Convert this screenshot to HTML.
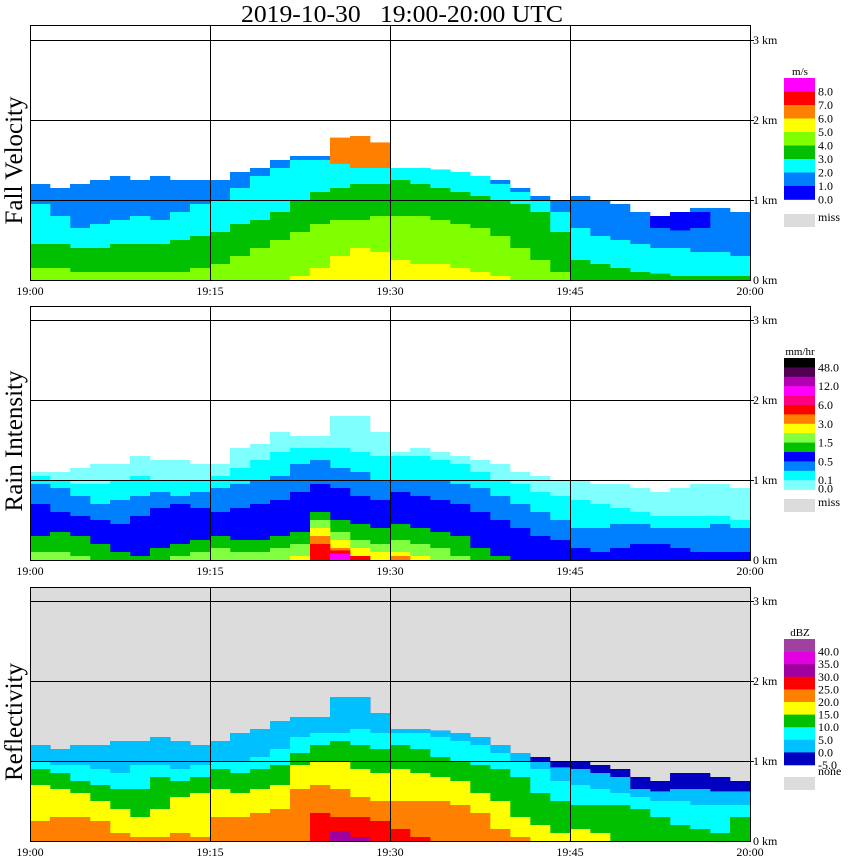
<!DOCTYPE html>
<html><head><meta charset="utf-8">
<style>
html,body{margin:0;padding:0;background:#fff;}
svg{display:block;font-family:"Liberation Serif",serif;}
</style></head>
<body>
<svg id="chart" width="850" height="868" viewBox="0 0 850 868" xmlns="http://www.w3.org/2000/svg">
<text x="402" y="22" font-size="24" text-anchor="middle" style="white-space:pre" xml:space="preserve" textLength="322" lengthAdjust="spacingAndGlyphs">2019-10-30   19:00-20:00 UTC</text>
<g id="layers"></g>
<g id="frames"></g>
<g id="legends"></g>
</svg>
<script>
// ---- time / height data (36 columns of 100 s, heights in km) ----
var timeLabels = ["19:00","19:15","19:30","19:45","20:00"];
var kmLabels = ["0 km","1 km","2 km","3 km"];
var panelTitles = ["Fall Velocity","Rain Intensity","Reflectivity"];

// Fall velocity band tops
var fvTop    = [1.2,1.15,1.2,1.25,1.3,1.25,1.3,1.25,1.25, 1.25,1.35,1.4,1.5,1.55,1.55,1.55,1.55,1.5, 1.4,1.4,1.38,1.35,1.3,1.25,1.15,1.05,1.0, 1.05,1.0,0.95,0.85,0.8,0.85,0.9,0.9,0.85];
var fvCyan   = [0.95,0.8,0.65,0.7,0.75,0.8,0.75,0.85,0.95, 1.0,1.15,1.3,1.4,1.5,1.5,1.5,1.5,1.45, 1.4,1.4,1.38,1.35,1.3,1.2,1.1,1.0,0.85, 0.65,0.55,0.5,0.45,0.4,0.4,0.35,0.35,0.3];
var fvGreen  = [0.45,0.45,0.4,0.4,0.45,0.45,0.45,0.5,0.55, 0.6,0.7,0.75,0.85,1.0,1.1,1.15,1.2,1.2, 1.25,1.2,1.15,1.1,1.05,1.0,0.95,0.85,0.6, 0.25,0.2,0.15,0.1,0.08,0.05,0.05,0.05,0.05];
var fvLime   = [0.15,0.15,0.1,0.1,0.1,0.1,0.1,0.1,0.15, 0.2,0.3,0.4,0.5,0.6,0.7,0.75,0.75,0.8, 0.8,0.8,0.75,0.7,0.65,0.55,0.4,0.25,0.1, 0,0,0,0,0,0,0,0,0];
var fvYellow = [0,0,0,0,0,0,0,0,0, 0,0,0,0,0.05,0.15,0.3,0.4,0.35, 0.25,0.2,0.2,0.15,0.1,0.05,0,0,0, 0,0,0,0,0,0,0,0,0];
var fvBlueLo = [0,0,0,0,0,0,0,0,0, 0,0,0,0,0,0,0,0,0, 0,0,0,0,0,0,0,0,0, 0,0,0,0,0.65,0.62,0.65,0,0];
var fvBlueHi = [0,0,0,0,0,0,0,0,0, 0,0,0,0,0,0,0,0,0, 0,0,0,0,0,0,0,0,0, 0,0,0,0,0.8,0.85,0.85,0,0];
var fvFastLo = [0,0,0,0,0,0,0,0,0, 0,0,0,0,0,0,1.45,1.4,1.4, 0,0,0,0,0,0,0,0,0, 0,0,0,0,0,0,0,0,0];
var fvFastHi = [0,0,0,0,0,0,0,0,0, 0,0,0,0,0,0,1.78,1.8,1.72, 0,0,0,0,0,0,0,0,0, 0,0,0,0,0,0,0,0,0];

// Rain intensity band tops
var riPale   = [1.1,1.1,1.15,1.2,1.2,1.3,1.25,1.25,1.2, 1.2,1.4,1.45,1.6,1.55,1.55,1.8,1.8,1.6, 1.35,1.4,1.35,1.3,1.25,1.2,1.1,1.05,1.0, 1.0,0.95,0.95,0.9,0.85,0.9,0.95,0.95,0.9];
var riCyan   = [1.05,1.0,0.95,0.95,1.0,1.05,1.0,1.0,1.0, 1.05,1.15,1.25,1.35,1.4,1.4,1.4,1.35,1.3, 1.3,1.3,1.25,1.2,1.1,1.0,0.95,0.85,0.8, 0.75,0.7,0.65,0.6,0.55,0.55,0.55,0.55,0.5];
var riDodger = [0.95,0.9,0.8,0.7,0.75,0.8,0.85,0.8,0.85, 0.9,0.95,1.0,1.05,1.2,1.25,1.15,1.1,1.0, 1.0,1.0,1.0,0.95,0.9,0.8,0.7,0.6,0.5, 0.4,0.4,0.45,0.45,0.4,0.4,0.4,0.45,0.4];
var riBlue   = [0.7,0.6,0.55,0.5,0.45,0.55,0.65,0.7,0.65, 0.6,0.65,0.7,0.75,0.85,0.95,0.9,0.8,0.75, 0.85,0.8,0.75,0.7,0.6,0.5,0.4,0.3,0.25, 0.15,0.1,0.15,0.2,0.2,0.15,0.1,0.1,0.1];
var riGreen  = [0.3,0.35,0.3,0.2,0.1,0.05,0.15,0.2,0.25, 0.3,0.25,0.25,0.3,0.35,0.6,0.5,0.45,0.4, 0.45,0.4,0.35,0.3,0.15,0.05,0,0,0, 0,0,0,0,0,0,0,0,0];
var riLime   = [0.1,0.1,0.05,0,0,0,0,0.05,0.1, 0.15,0.1,0.1,0.15,0.2,0.5,0.35,0.25,0.2, 0.25,0.2,0.15,0.05,0,0,0,0,0, 0,0,0,0,0,0,0,0,0];
var riYellow = [0,0,0,0,0,0,0,0,0, 0,0,0,0,0.05,0.4,0.25,0.15,0.1, 0.1,0.05,0,0,0,0,0,0,0, 0,0,0,0,0,0,0,0,0];
var riOrange = [0,0,0,0,0,0,0,0,0, 0,0,0,0,0,0.3,0.15,0.05,0, 0.05,0,0,0,0,0,0,0,0, 0,0,0,0,0,0,0,0,0];
var riRed    = [0,0,0,0,0,0,0,0,0, 0,0,0,0,0,0.2,0.12,0.05,0, 0,0,0,0,0,0,0,0,0, 0,0,0,0,0,0,0,0,0];
var riMag    = [0,0,0,0,0,0,0,0,0, 0,0,0,0,0,0,0.08,0,0, 0,0,0,0,0,0,0,0,0, 0,0,0,0,0,0,0,0,0];

// Reflectivity band tops
var rfDark   = [1.2,1.15,1.2,1.2,1.25,1.25,1.3,1.25,1.2, 1.25,1.35,1.4,1.5,1.55,1.55,1.8,1.8,1.6, 1.4,1.4,1.38,1.35,1.3,1.2,1.1,1.05,1.0, 1.0,0.95,0.9,0.8,0.75,0.85,0.85,0.8,0.75];
var rfSky    = [1.2,1.15,1.2,1.2,1.25,1.25,1.3,1.25,1.2, 1.25,1.35,1.4,1.5,1.55,1.55,1.8,1.8,1.6, 1.4,1.4,1.38,1.35,1.3,1.2,1.1,1.0,0.92, 0.9,0.85,0.8,0.65,0.62,0.65,0.65,0.62,0.62];
var rfCyan   = [1.0,0.95,0.95,0.9,0.85,0.95,0.95,0.9,0.95, 1.0,1.0,1.05,1.15,1.3,1.35,1.35,1.4,1.35, 1.35,1.35,1.3,1.25,1.2,1.1,1.0,0.9,0.75, 0.7,0.65,0.6,0.55,0.5,0.5,0.45,0.45,0.45];
var rfGreen  = [0.9,0.85,0.75,0.7,0.65,0.65,0.8,0.75,0.8, 0.9,0.85,0.9,0.95,1.1,1.2,1.25,1.2,1.15, 1.2,1.15,1.05,1.0,0.95,0.9,0.8,0.6,0.5, 0.45,0.45,0.45,0.4,0.3,0.2,0.15,0.1,0.3];
var rfYellow = [0.7,0.65,0.6,0.5,0.4,0.3,0.4,0.55,0.6, 0.65,0.6,0.65,0.7,0.95,1.0,1.0,0.9,0.85, 0.9,0.85,0.8,0.75,0.6,0.5,0.3,0.2,0.1, 0.15,0.1,0,0,0,0,0,0,0];
var rfOrange = [0.25,0.3,0.3,0.25,0.1,0.05,0.05,0.1,0.05, 0.3,0.3,0.35,0.4,0.65,0.7,0.65,0.55,0.5, 0.5,0.5,0.5,0.45,0.35,0.15,0.05,0,0, 0,0,0,0,0,0,0,0,0];
var rfRed    = [0,0,0,0,0,0,0,0,0, 0,0,0,0,0,0.35,0.3,0.3,0.25, 0.15,0.05,0,0,0,0,0,0,0, 0,0,0,0,0,0,0,0,0];
var rfPurple = [0,0,0,0,0,0,0,0,0, 0,0,0,0,0,0,0.12,0.05,0, 0,0,0,0,0,0,0,0,0, 0,0,0,0,0,0,0,0,0];

// legends
var fvLegendColors = ["#ff00ff","#ff0000","#ff8000","#ffff00","#80ff00","#00c000","#00ffff","#0080ff","#0000ff"];
var fvLegendLabels = ["8.0","7.0","6.0","5.0","4.0","3.0","2.0","1.0","0.0"];
var riLegendColors = ["#000000","#500050","#b000b0","#ff00ff","#ff0080","#ff0000","#ff8000","#ffff00","#80ff40","#00c000","#0000ff","#0080ff","#00ffff","#80ffff"];
var riLegendLabels = ["48.0","12.0","6.0","3.0","1.5","0.5","0.1","0.0"];
var rfLegendColors = ["#a040a0","#e000e0","#a000a0","#ff0000","#ff8000","#ffff00","#00c000","#00ffff","#00c0ff","#0000c0"];
var rfLegendLabels = ["40.0","35.0","30.0","25.0","20.0","15.0","10.0","5.0","0.0","-5.0"];

var NS="http://www.w3.org/2000/svg";
var X0=30, X1=750, NCOL=36, KM=80;
var panels=[{base:280,top:25},{base:560,top:306},{base:841,top:587}];
function xCol(i){return X0+(X1-X0)*i/NCOL;}
function yKm(p,h){return panels[p].base-h*KM;}
function mk(tag,attrs,parent){var e=document.createElementNS(NS,tag);for(var k in attrs)e.setAttribute(k,attrs[k]);parent.appendChild(e);return e;}
var L=document.getElementById('layers'),F=document.getElementById('frames'),G=document.getElementById('legends');

function band(p,name,color,lo,hi){
  var g=mk('g',{},L);
  
  
  for(var i=0;i<NCOL;i++){
    var a=lo?lo[i]:0,b=hi[i];
    if(b<=a)continue;
    var r=mk('rect',{x:xCol(i),y:yKm(p,b),width:xCol(i+1)-xCol(i)+0.3,height:(b-a)*KM,fill:color},g);
    
    
  }
}
var bg=mk('rect',{x:X0,y:panels[2].top,width:X1-X0,height:panels[2].base-panels[2].top,fill:'#dcdcdc'},L);



band(0,'fv-1-2','#0080ff',null,fvTop);
band(0,'fv-2-3','#00ffff',null,fvCyan);
band(0,'fv-3-4','#00c000',null,fvGreen);
band(0,'fv-4-5','#80ff00',null,fvLime);
band(0,'fv-5-6','#ffff00',null,fvYellow);
band(0,'fv-0-1','#0000ff',fvBlueLo,fvBlueHi);
band(0,'fv-6-7','#ff8000',fvFastLo,fvFastHi);

band(1,'ri-0-0.1','#80ffff',null,riPale);
band(1,'ri-0.1-0.5','#00ffff',null,riCyan);
band(1,'ri-0.5-1','#0080ff',null,riDodger);
band(1,'ri-1-1.5','#0000ff',null,riBlue);
band(1,'ri-1.5-2','#00c000',null,riGreen);
band(1,'ri-2-3','#80ff40',null,riLime);
band(1,'ri-3-5','#ffff00',null,riYellow);
band(1,'ri-5-6','#ff8000',null,riOrange);
band(1,'ri-6-9','#ff0000',null,riRed);
band(1,'ri-12','#ff00ff',null,riMag);

band(2,'rf-minus5','#0000c0',null,rfDark);
band(2,'rf-0','#00c0ff',null,rfSky);
band(2,'rf-5','#00ffff',null,rfCyan);
band(2,'rf-10','#00c000',null,rfGreen);
band(2,'rf-15','#ffff00',null,rfYellow);
band(2,'rf-20','#ff8000',null,rfOrange);
band(2,'rf-25','#ff0000',null,rfRed);
band(2,'rf-30','#a000a0',null,rfPurple);

for(var p=0;p<3;p++){
  var P=panels[p];
  var fr=mk('rect',{x:X0+0.5,y:P.top+0.5,width:X1-X0,height:P.base-P.top,fill:'none',stroke:'#000','stroke-width':1},F);
  
  
  for(var k=1;k<=3;k++){
    var y=Math.round(yKm(p,k))+0.5;
    var gl=mk('line',{x1:X0,x2:X1+4,y1:y,y2:y,stroke:'#000','stroke-width':1},F);
    
    
  }
  for(var t=1;t<=3;t++){
    var x=X0+t*180+0.5;
    var vl=mk('line',{x1:x,x2:x,y1:P.top,y2:P.base,stroke:'#000','stroke-width':1},F);
    
    
  }
  for(var k2=0;k2<kmLabels.length;k2++){
    var tx=mk('text',{x:753,y:yKm(p,k2)+4,'font-size':12},F);
    tx.textContent=kmLabels[k2];
    
    
  }
  for(var t2=0;t2<timeLabels.length;t2++){
    var tl=mk('text',{x:X0+t2*180,y:P.base+15,'font-size':12,'text-anchor':'middle'},F);
    tl.textContent=timeLabels[t2];
    
    
  }
  var cy=(P.top+P.base)/2+8;
  var pt=mk('text',{x:0,y:0,'font-size':25,'text-anchor':'middle',transform:'translate(22,'+cy+') rotate(-90)'},F);
  pt.textContent=panelTitles[p];
  
  
}

function legend(name,unit,colors,labels,top,sh,labelIdx,missText,missY,unitY){
  var g=mk('g',{},G);
  
  
  var u=mk('text',{x:800,y:unitY,'font-size':11,'text-anchor':'middle'},g);
  u.textContent=unit;
  
  
  for(var i=0;i<colors.length;i++){
    var r=mk('rect',{x:784,y:top+i*sh,width:31,height:sh+0.3,fill:colors[i]},g);
    
    
  }
  for(var j=0;j<labels.length;j++){
    var t=mk('text',{x:818,y:top+labelIdx[j]*sh+4,'font-size':12},g);
    t.textContent=labels[j];
    
    
  }
  var m=mk('rect',{x:784,y:missY,width:31,height:13,fill:'#dcdcdc'},g);
  
  
  var mt=mk('text',{x:818,y:missY+ (missText==='none'?-2:7),'font-size':12},g);
  mt.textContent=missText;
  
  
}
legend('fall-velocity-legend','m/s',fvLegendColors,fvLegendLabels,78,13.5,[1,2,3,4,5,6,7,8,9],'miss',214,75);
legend('rain-intensity-legend','mm/hr',riLegendColors,riLegendLabels,358,9.4,[1,3,5,7,9,11,13,13.9],'miss',499,355);
legend('reflectivity-legend','dBZ',rfLegendColors,rfLegendLabels,639,12.6,[1,2,3,4,5,6,7,8,9,10],'none',777,636);
</script>
</body></html>
